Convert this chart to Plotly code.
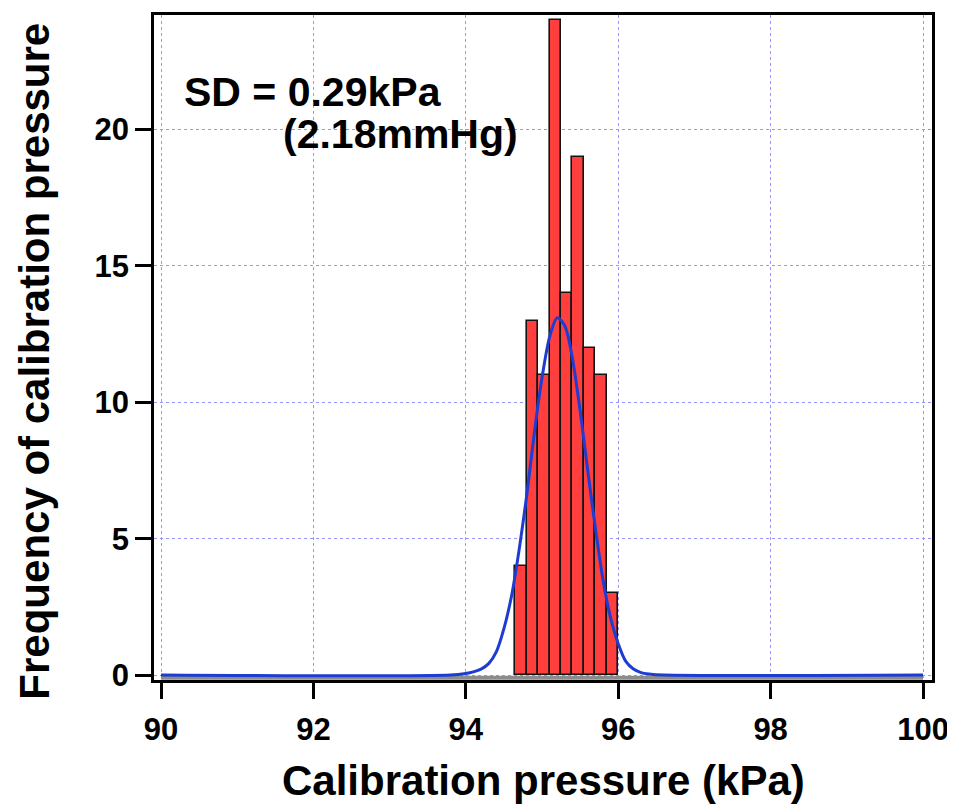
import plotly.graph_objects as go

# Histogram data (bin centres in kPa, counts)
bin_centers = [94.725, 94.875, 95.025, 95.175, 95.325, 95.475, 95.625, 95.775, 95.925]
bin_counts = [4, 13, 11, 24, 14, 19, 12, 11, 3]
bin_width = 0.15

# Fitted normal curve
curve_x = [90.0, 93.8, 94.0, 94.1, 94.2, 94.3, 94.4, 94.5, 94.6, 94.7, 94.8, 94.9,
           95.0, 95.1, 95.2, 95.3, 95.4, 95.5, 95.6, 95.7, 95.8, 95.9, 96.0,
           96.1, 96.2, 96.3, 96.4, 96.6, 100.0]
curve_y = [0, 0, 0.06, 0.12, 0.22, 0.42, 0.85, 1.7, 2.9, 4.6, 6.6, 8.9,
           10.9, 12.4, 13.1, 12.8, 11.6, 9.7, 7.5, 5.4, 3.5, 2.1, 1.15,
           0.5, 0.22, 0.09, 0.04, 0, 0]

baseline_x = [90, 100]
baseline_y = [-0.1, -0.1]

x_ticks = [90, 92, 94, 96, 98, 100]
y_ticks = [0, 5, 10, 15, 20]

FONT = "Liberation Sans, Arial, Helvetica, sans-serif"

fig = go.Figure()
fig.add_trace(go.Scatter(x=baseline_x, y=baseline_y, mode="lines",
                         line=dict(color="rgb(140,140,140)", width=4),
                         hoverinfo="skip", showlegend=False))
fig.add_trace(go.Bar(x=bin_centers, y=bin_counts, width=bin_width,
                     marker=dict(color="rgb(255,62,62)",
                                 line=dict(color="rgb(20,20,20)", width=1.6)),
                     showlegend=False))
fig.add_trace(go.Scatter(x=curve_x, y=curve_y, mode="lines",
                         line=dict(color="rgb(30,60,210)", width=3, shape="spline", smoothing=0.8),
                         showlegend=False))

axis_common = dict(ticks="outside", ticklen=16, tickwidth=2.5, tickcolor="black",
                   showline=True, linecolor="black", linewidth=2.5, mirror=True,
                   showgrid=True, gridcolor="rgb(150,150,255)", griddash="dot", gridwidth=1,
                   zeroline=False,
                   tickfont=dict(size=31, family=FONT, weight="bold"))

fig.update_layout(
    width=947, height=799,
    margin=dict(l=146, r=23, t=4, b=127),
    paper_bgcolor="white", plot_bgcolor="white",
    font=dict(family=FONT, color="black"),
    bargap=0,
    xaxis=dict(range=[89.908, 100.118], tickvals=x_ticks, ticklabelstandoff=4, **axis_common),
    yaxis=dict(range=[-0.18, 24.2], tickvals=y_ticks, **axis_common),
    annotations=[
        dict(text="<b>Frequency of calibration pressure</b>", xref="paper", yref="paper",
             x=-0.1855, y=0.479, xanchor="left", yanchor="middle", textangle=-90,
             borderpad=0, showarrow=False, font=dict(size=42, family=FONT)),
        dict(text="<b>Calibration pressure (kPa)</b>", xref="paper", yref="paper",
             x=0.501, y=-0.1886, xanchor="center", yanchor="bottom",
             borderpad=0, showarrow=False, font=dict(size=42, family=FONT)),
        dict(text="<b>SD = 0.29kPa</b>", xref="x", yref="y", x=90.27, y=21.39,
             xanchor="left", yanchor="middle", showarrow=False,
             font=dict(size=41, family=FONT)),
        dict(text="<b>(2.18mmHg)</b>", xref="x", yref="y", x=91.58, y=19.82,
             xanchor="left", yanchor="middle", showarrow=False,
             font=dict(size=41, family=FONT)),
    ],
)

fig.write_html("out.html")
